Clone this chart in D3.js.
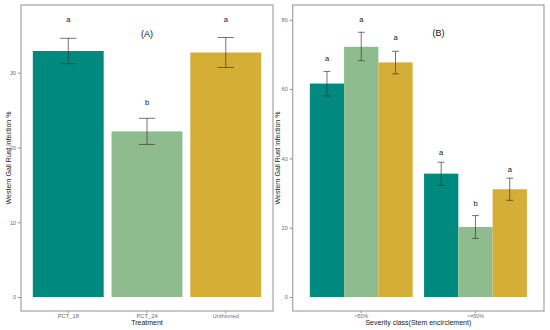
<!DOCTYPE html>
<html>
<head>
<meta charset="utf-8">
<script src="https://cdn.jsdelivr.net/npm/d3@7"></script>
<style>
  body { margin: 0; background: #fff; }
  svg { font-family: "Liberation Sans", Arial, sans-serif; }
  .tick text { fill: #6b6b6b; font-size: 5.5px; }
  .tick line { stroke: #8a8a8a; }
  .domain { display: none; }
</style>
</head>
<body>
<div id="wrapper"></div>
<script>
// ---- data ----
const treatments = ["PCT_18", "PCT_24", "Unthinned"];
const colors = ["#00897f", "#8fbc8f", "#d4ae37"];

// panel A: infection by treatment
const infectA = [32.9, 22.15, 32.7];
const lowA = [31.2, 20.4, 30.7];
const highA = [34.6, 23.9, 34.7];
const lettersA = ["a", "b", "a"];
const letterPosA = [37.0, 25.9, 37.0];

// panel B: infection by severity class, one array per treatment
const classes = ["<50%", ">=50%"];
const infectB = { PCT_18: [61.6, 35.6], PCT_24: [72.2, 20.2], Unthinned: [67.7, 31.1] };
const lowB = { PCT_18: [58.0, 32.2], PCT_24: [68.2, 16.9], Unthinned: [64.4, 27.9] };
const highB = { PCT_18: [65.1, 38.9], PCT_24: [76.4, 23.5], Unthinned: [70.9, 34.3] };
const lettersB = { PCT_18: ["a", "a"], PCT_24: ["a", "b"], Unthinned: ["a", "a"] };
const letterPosB = { PCT_18: [68.8, 41.6], PCT_24: [79.9, 26.8], Unthinned: [74.8, 36.7] };

const ticksA = [0, 10, 20, 30];
const ticksB = [0, 20, 40, 60, 80];

const width = 550, height = 330;
const svg = d3.select("#wrapper").append("svg")
  .attr("width", width).attr("height", height);

const color = d3.scaleOrdinal().domain(treatments).range(colors);

function drawFrame(x0, x1, y0, y1) {
  svg.append("rect")
    .attr("x", x0).attr("y", y0)
    .attr("width", x1 - x0).attr("height", y1 - y0)
    .attr("fill", "none")
    .attr("stroke", "#a3a3a3")
    .attr("stroke-width", 1.2);
}

// ---- PANEL A ----
const A = { left: 21, right: 273, top: 5, bottom: 311 };
const xA = d3.scaleBand().domain(treatments)
  .range([A.left, A.right]).paddingInner(0.1).paddingOuter(0.15);
const yA = d3.scaleLinear().domain([-1.87, 39.05]).range([A.bottom, A.top]);

svg.append("g")
  .attr("transform", `translate(${A.left},0)`)
  .call(d3.axisLeft(yA).tickValues(ticksA).tickSize(3).tickPadding(2));
svg.append("g")
  .attr("transform", `translate(0,${A.bottom})`)
  .call(d3.axisBottom(xA).tickSize(2).tickPadding(1))
  .selectAll("text").style("font-size", "5.8px");

svg.append("g").selectAll("rect")
  .data(treatments)
  .join("rect")
  .attr("x", d => xA(d))
  .attr("y", (d, i) => yA(infectA[i]))
  .attr("width", xA.bandwidth())
  .attr("height", (d, i) => yA(0) - yA(infectA[i]))
  .attr("fill", d => color(d));

const capA = xA.bandwidth() * 0.115;
const errA = svg.append("g").attr("stroke", "#3a3a3a").attr("stroke-width", 0.7);
treatments.forEach((t, i) => {
  const cx = xA(t) + xA.bandwidth() / 2;
  errA.append("line").attr("x1", cx).attr("x2", cx)
    .attr("y1", yA(lowA[i])).attr("y2", yA(highA[i]));
  [lowA[i], highA[i]].forEach(v => {
    errA.append("line").attr("x1", cx - capA).attr("x2", cx + capA)
      .attr("y1", yA(v)).attr("y2", yA(v));
  });
  svg.append("text")
    .attr("x", cx).attr("y", yA(letterPosA[i]))
    .attr("text-anchor", "middle").attr("dominant-baseline", "middle")
    .attr("font-size", 7.5).attr("fill", "#111")
    .text(lettersA[i]);
});

svg.append("text")
  .attr("x", (A.left + A.right) / 2).attr("y", 35)
  .attr("text-anchor", "middle").attr("dominant-baseline", "middle")
  .attr("font-size", 9).attr("fill", "#111")
  .text("(A)");

svg.append("text")
  .attr("transform", `translate(9,${(A.top + A.bottom) / 2}) rotate(-90)`)
  .attr("text-anchor", "middle").attr("dominant-baseline", "middle")
  .attr("font-size", 7).attr("fill", "#222")
  .text("Western Gall Rust infection %");
svg.append("text")
  .attr("x", (A.left + A.right) / 2).attr("y", 323.5)
  .attr("text-anchor", "middle").attr("dominant-baseline", "middle")
  .attr("font-size", 7).attr("fill", "#222")
  .text("Treatment");

drawFrame(A.left, A.right, A.top, A.bottom);

// ---- PANEL B ----
const B = { left: 292.7, right: 544, top: 5, bottom: 311 };
const xB = d3.scaleBand().domain(classes)
  .range([B.left, B.right]).paddingInner(0.1).paddingOuter(0.15);
const xBi = d3.scaleBand().domain(treatments).range([0, xB.bandwidth()]);
const yB = d3.scaleLinear().domain([-4.04, 84.27]).range([B.bottom, B.top]);

svg.append("g")
  .attr("transform", `translate(${B.left},0)`)
  .call(d3.axisLeft(yB).tickValues(ticksB).tickSize(3).tickPadding(2));
svg.append("g")
  .attr("transform", `translate(0,${B.bottom})`)
  .call(d3.axisBottom(xB).tickSize(2).tickPadding(1))
  .selectAll("text").style("font-size", "5.3px");

const groups = svg.append("g").selectAll("g")
  .data(classes)
  .join("g")
  .attr("transform", d => `translate(${xB(d)},0)`);

groups.selectAll("rect")
  .data((c, ci) => treatments.map(t => ({ t, v: infectB[t][ci] })))
  .join("rect")
  .attr("x", d => xBi(d.t))
  .attr("y", d => yB(d.v))
  .attr("width", xBi.bandwidth())
  .attr("height", d => yB(0) - yB(d.v))
  .attr("fill", d => color(d.t));

const capB = xBi.bandwidth() * 0.1;
const errB = svg.append("g").attr("stroke", "#3a3a3a").attr("stroke-width", 0.7);
classes.forEach((c, ci) => {
  treatments.forEach(t => {
    const cx = xB(c) + xBi(t) + xBi.bandwidth() / 2;
    errB.append("line").attr("x1", cx).attr("x2", cx)
      .attr("y1", yB(lowB[t][ci])).attr("y2", yB(highB[t][ci]));
    [lowB[t][ci], highB[t][ci]].forEach(v => {
      errB.append("line").attr("x1", cx - capB).attr("x2", cx + capB)
        .attr("y1", yB(v)).attr("y2", yB(v));
    });
    svg.append("text")
      .attr("x", cx).attr("y", yB(letterPosB[t][ci]))
      .attr("text-anchor", "middle").attr("dominant-baseline", "middle")
      .attr("font-size", 7.5).attr("fill", "#111")
      .text(lettersB[t][ci]);
  });
});

svg.append("text")
  .attr("x", B.left + (B.right - B.left) * 0.58).attr("y", 34)
  .attr("text-anchor", "middle").attr("dominant-baseline", "middle")
  .attr("font-size", 9).attr("fill", "#111")
  .text("(B)");

svg.append("text")
  .attr("transform", `translate(278,${(B.top + B.bottom) / 2}) rotate(-90)`)
  .attr("text-anchor", "middle").attr("dominant-baseline", "middle")
  .attr("font-size", 7).attr("fill", "#222")
  .text("Western Gall Rust infection %");
svg.append("text")
  .attr("x", (B.left + B.right) / 2).attr("y", 323.5)
  .attr("text-anchor", "middle").attr("dominant-baseline", "middle")
  .attr("font-size", 7).attr("fill", "#222")
  .text("Severity class(Stem encirclement)");

drawFrame(B.left, B.right, B.top, B.bottom);
</script>
</body>
</html>
